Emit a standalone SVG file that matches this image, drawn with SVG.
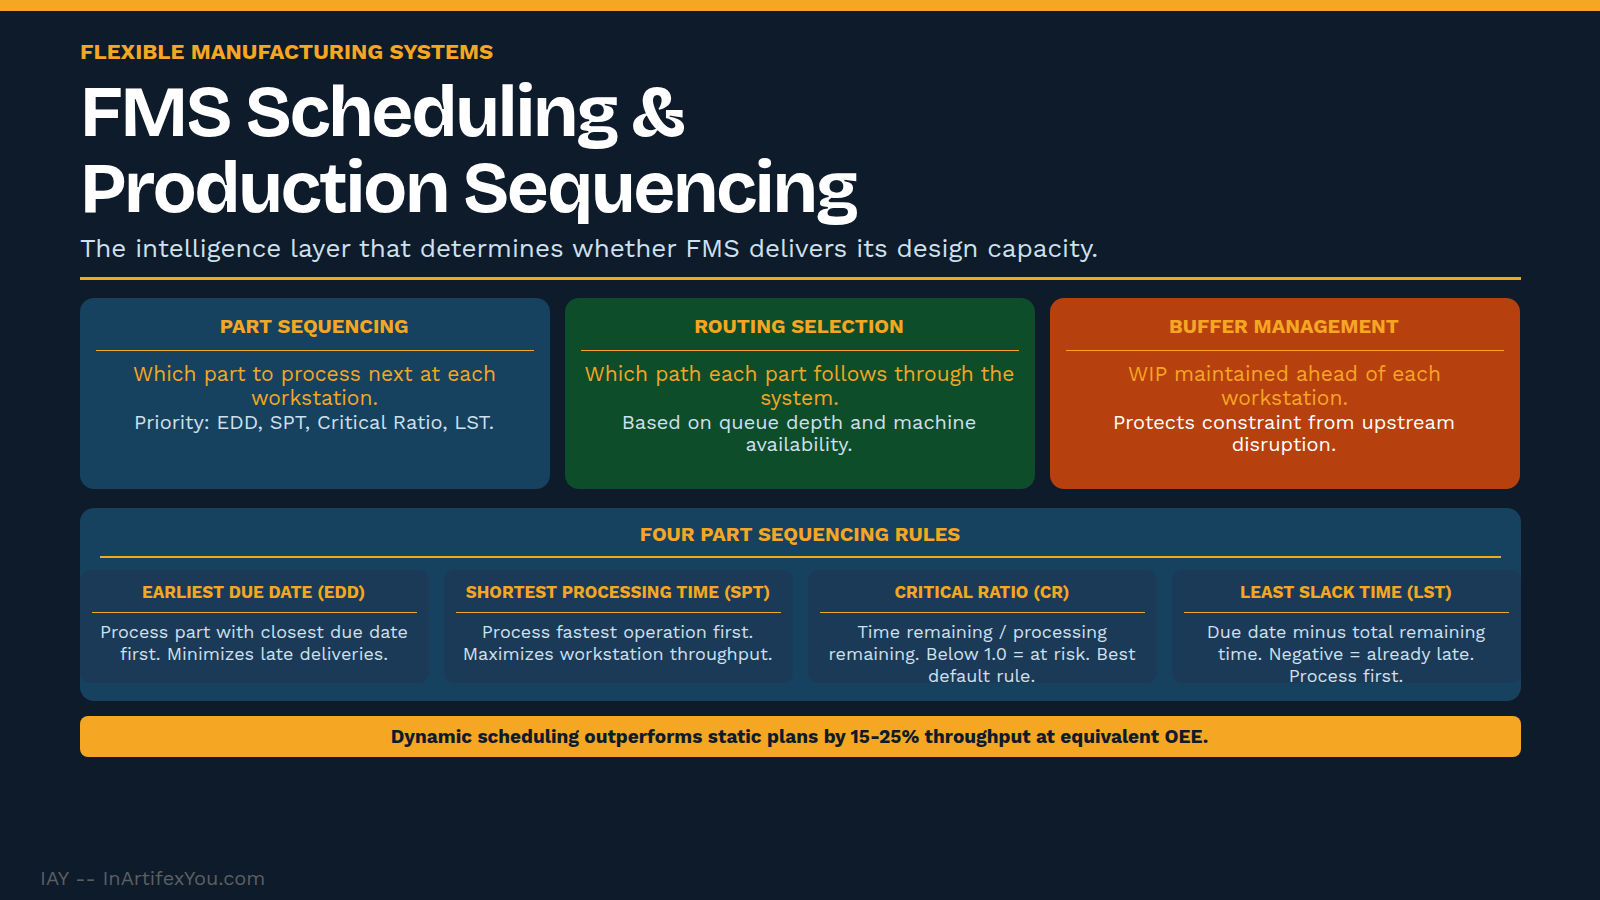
<svg xmlns="http://www.w3.org/2000/svg" width="1600" height="900" viewBox="0 0 1600 900">
<style>
text{font-family:"Work Sans","Inter","Liberation Sans",sans-serif}
.c{text-anchor:middle}
.tt{font-size:72px;font-weight:700;fill:#fff;font-family:"Bricolage Grotesque","Work Sans",sans-serif}
.ct{font-size:20px;font-weight:700;fill:#F5A623}
.cm{font-size:21px;font-weight:400;fill:#F5A623}
.cs{font-size:20px;font-weight:400;fill:#CFE0EE}
.it{font-size:17px;font-weight:700;fill:#F5A623}
.ib{font-size:18px;font-weight:400;fill:#CFE0EE}
.d{fill:#F5A623}
</style>
<rect width="1600" height="900" fill="#0D1B2A"/>
<rect width="1600" height="11" fill="#F5A623"/>
<g id="header">
<text x="80" y="59" font-size="22" font-weight="700" fill="#F5A623">FLEXIBLE MANUFACTURING SYSTEMS</text>
<text class="tt" x="80" y="136" textLength="606" lengthAdjust="spacing">FMS Scheduling &amp;</text>
<text class="tt" x="80" y="212" textLength="779" lengthAdjust="spacing">Production Sequencing</text>
<text x="80" y="257" font-size="26" fill="#CFE0EE">The intelligence layer that determines whether FMS delivers its design capacity.</text>
<rect x="80" y="277" width="1441" height="3" class="d"/>
</g>
<g id="card-part">
<rect x="80" y="298" width="470" height="191" rx="14" fill="#16425F"/>
<text class="c ct" x="314.2" y="333">PART SEQUENCING</text>
<rect x="96" y="350" width="438" height="1" class="d"/>
<text class="c cm" x="314.5" y="381">Which part to process next at each</text>
<text class="c cm" x="314.5" y="405">workstation.</text>
<text class="c cs" x="314" y="429">Priority: EDD, SPT, Critical Ratio, LST.</text>
</g>
<g id="card-routing">
<rect x="565" y="298" width="470" height="191" rx="14" fill="#0E4D2A"/>
<text class="c ct" x="799" y="333">ROUTING SELECTION</text>
<rect x="581" y="350" width="438" height="1" class="d"/>
<text class="c cm" x="799.5" y="381">Which path each part follows through the</text>
<text class="c cm" x="799.5" y="405">system.</text>
<text class="c cs" x="799" y="429">Based on queue depth and machine</text>
<text class="c cs" x="799" y="451">availability.</text>
</g>
<g id="card-buffer">
<rect x="1050" y="298" width="470" height="191" rx="14" fill="#B7410E"/>
<text class="c ct" x="1284" y="333">BUFFER MANAGEMENT</text>
<rect x="1066" y="350" width="438" height="1" class="d"/>
<text class="c cm" x="1284.5" y="381">WIP maintained ahead of each</text>
<text class="c cm" x="1284.5" y="405">workstation.</text>
<text class="c cs" x="1284" y="429" style="fill:#fff">Protects constraint from upstream</text>
<text class="c cs" x="1284" y="451" style="fill:#fff">disruption.</text>
</g>
<g id="panel-rules">
<rect x="80" y="508" width="1441" height="193" rx="14" fill="#16425F"/>
<text class="c ct" x="800" y="541">FOUR PART SEQUENCING RULES</text>
<rect x="100" y="556" width="1401" height="2" class="d"/>
</g>
<g id="rule-edd">
<rect x="80" y="570" width="349" height="113" rx="10" fill="#1B3A57"/>
<text class="c it" x="253.6" y="598">EARLIEST DUE DATE (EDD)</text>
<rect x="92" y="612" width="325" height="1" class="d"/>
<text class="c ib" x="254" y="638">Process part with closest due date</text>
<text class="c ib" x="254" y="660">first. Minimizes late deliveries.</text>
</g>
<g id="rule-spt">
<rect x="444" y="570" width="349" height="113" rx="10" fill="#1B3A57"/>
<text class="c it" x="618" y="598">SHORTEST PROCESSING TIME (SPT)</text>
<rect x="456" y="612" width="325" height="1" class="d"/>
<text class="c ib" x="617.6" y="638">Process fastest operation first.</text>
<text class="c ib" x="617.6" y="660">Maximizes workstation throughput.</text>
</g>
<g id="rule-cr">
<rect x="808" y="570" width="349" height="113" rx="10" fill="#1B3A57"/>
<text class="c it" x="982" y="598">CRITICAL RATIO (CR)</text>
<rect x="820" y="612" width="325" height="1" class="d"/>
<text class="c ib" x="982" y="638">Time remaining / processing</text>
<text class="c ib" x="982" y="660">remaining. Below 1.0 = at risk. Best</text>
<text class="c ib" x="981.6" y="682">default rule.</text>
</g>
<g id="rule-lst">
<rect x="1172" y="570" width="349" height="113" rx="10" fill="#1B3A57"/>
<text class="c it" x="1346" y="598">LEAST SLACK TIME (LST)</text>
<rect x="1184" y="612" width="325" height="1" class="d"/>
<text class="c ib" x="1346" y="638">Due date minus total remaining</text>
<text class="c ib" x="1346" y="660">time. Negative = already late.</text>
<text class="c ib" x="1346" y="682">Process first.</text>
</g>
<g id="banner">
<rect x="80" y="716" width="1441" height="41" rx="8" fill="#F5A623"/>
<text class="c" x="799.5" y="743" font-size="19" font-weight="700" fill="#0D1B2A">Dynamic scheduling outperforms static plans by 15-25% throughput at equivalent OEE.</text>
</g>
<text id="footer" x="40" y="885" font-size="20" fill="#5C5F62">IAY -- InArtifexYou.com</text>
</svg>
